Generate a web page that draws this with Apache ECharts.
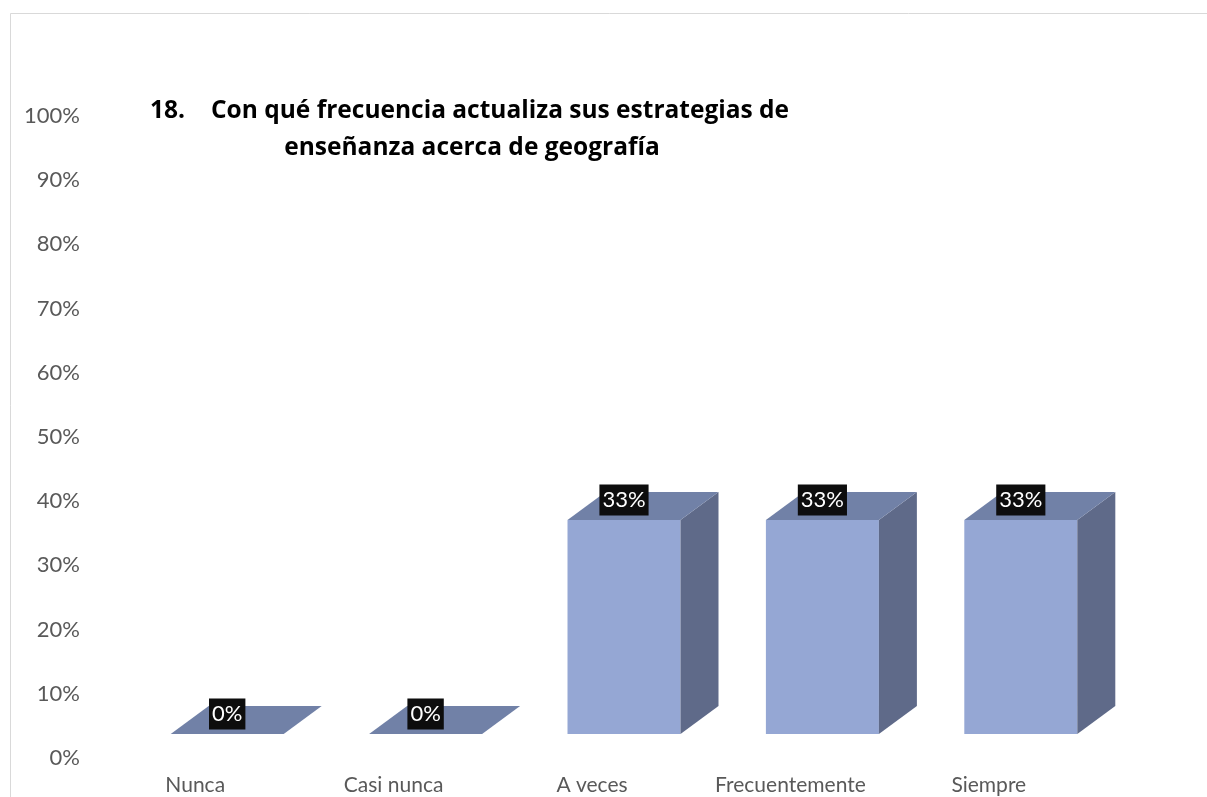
<!DOCTYPE html>
<html>
<head>
<meta charset="utf-8">
<script src="https://cdn.jsdelivr.net/npm/echarts@6/dist/echarts.min.js"></script>
<style>html,body{margin:0;padding:0;background:#fff;}#chart{width:1207px;height:797px;}</style>
</head>
<body>
<div id="chart"></div>
<script>
const categories = ['Nunca', 'Casi nunca', 'A veces', 'Frecuentemente', 'Siempre'];
const values = [0, 0, 33.33, 33.33, 33.33];
const yTicks = [0, 10, 20, 30, 40, 50, 60, 70, 80, 90, 100];
const titleNumber = '18.';
const titleLine1 = 'Con qué frecuencia actualiza sus estrategias de';
const titleLine2 = 'enseñanza acerca de geografía';

const FONT = 'Lato, "Open Sans", sans-serif';
const TFONT = '"Open Sans", Lato, sans-serif';
const FRONT_W = 113, SHIFT_X = 32, LIFT = 24, DX = 38, DY = 28;
const C_FRONT = '#95a7d4', C_TOP = '#7181a7', C_SIDE = '#5f6a89';

const chart = echarts.init(document.getElementById('chart'));
chart.setOption({
  animation: false,
  backgroundColor: '#fff',
  grid: { left: 96, right: 119, top: 116, bottom: 39, containLabel: false },
  xAxis: {
    type: 'category', data: categories,
    axisLine: { show: false }, axisTick: { show: false },
    axisLabel: { color: '#595959', fontSize: 21, fontFamily: FONT, margin: 17 }
  },
  yAxis: {
    type: 'value', min: yTicks[0], max: yTicks[yTicks.length - 1], interval: 10,
    splitLine: { show: false }, axisLine: { show: false }, axisTick: { show: false },
    axisLabel: { color: '#595959', fontSize: 22, fontFamily: FONT, margin: 16, formatter: '{value}%' }
  },
  graphic: [
    { type: 'rect', left: 8, top: 11, shape: { width: 1300, height: 900 }, style: { fill: 'none', stroke: '#d9d9d9', lineWidth: 1 }, silent: true },
    { type: 'text', x: 150, y: 111, style: { text: titleNumber, font: 'bold 24.5px ' + TFONT, fill: '#000', verticalAlign: 'middle' } },
    { type: 'text', x: 211, y: 111, style: { text: titleLine1, font: 'bold 24.5px ' + TFONT, fill: '#000', verticalAlign: 'middle' } },
    { type: 'text', x: 472, y: 148, style: { text: titleLine2, font: 'bold 24.5px ' + TFONT, fill: '#000', align: 'center', verticalAlign: 'middle' } }
  ],
  series: [{
    type: 'custom',
    data: values.map((v, i) => [i, v]),
    encode: { x: 0, y: 1 },
    renderItem: function (params, api) {
      const i = api.value(0), v = api.value(1);
      const base = api.coord([i, 0]);
      const top = api.coord([i, v]);
      const cx = base[0] + SHIFT_X;
      const y0 = base[1] - LIFT, y1 = top[1] - LIFT;
      const xl = cx - FRONT_W / 2, xr = cx + FRONT_W / 2;
      const children = [];
      if (y0 - y1 > 0.5) {
        children.push({ type: 'rect', shape: { x: xl, y: y1, width: FRONT_W, height: y0 - y1 }, style: { fill: C_FRONT } });
        children.push({ type: 'polygon', shape: { points: [[xr, y1], [xr + DX, y1 - DY], [xr + DX, y0 - DY], [xr, y0]] }, style: { fill: C_SIDE } });
      }
      children.push({ type: 'polygon', shape: { points: [[xl, y1], [xr, y1], [xr + DX, y1 - DY], [xl + DX, y1 - DY]] }, style: { fill: C_TOP } });
      children.push({
        type: 'text', x: cx, y: y1 - 20, z2: 10,
        style: {
          text: Math.round(v) + '%', fill: '#fff', font: '22px ' + FONT,
          align: 'center', verticalAlign: 'middle',
          backgroundColor: '#0d0d0d', padding: [5, 3, 4, 3]
        }
      });
      return { type: 'group', children: children };
    }
  }]
});
</script>
</body>
</html>
